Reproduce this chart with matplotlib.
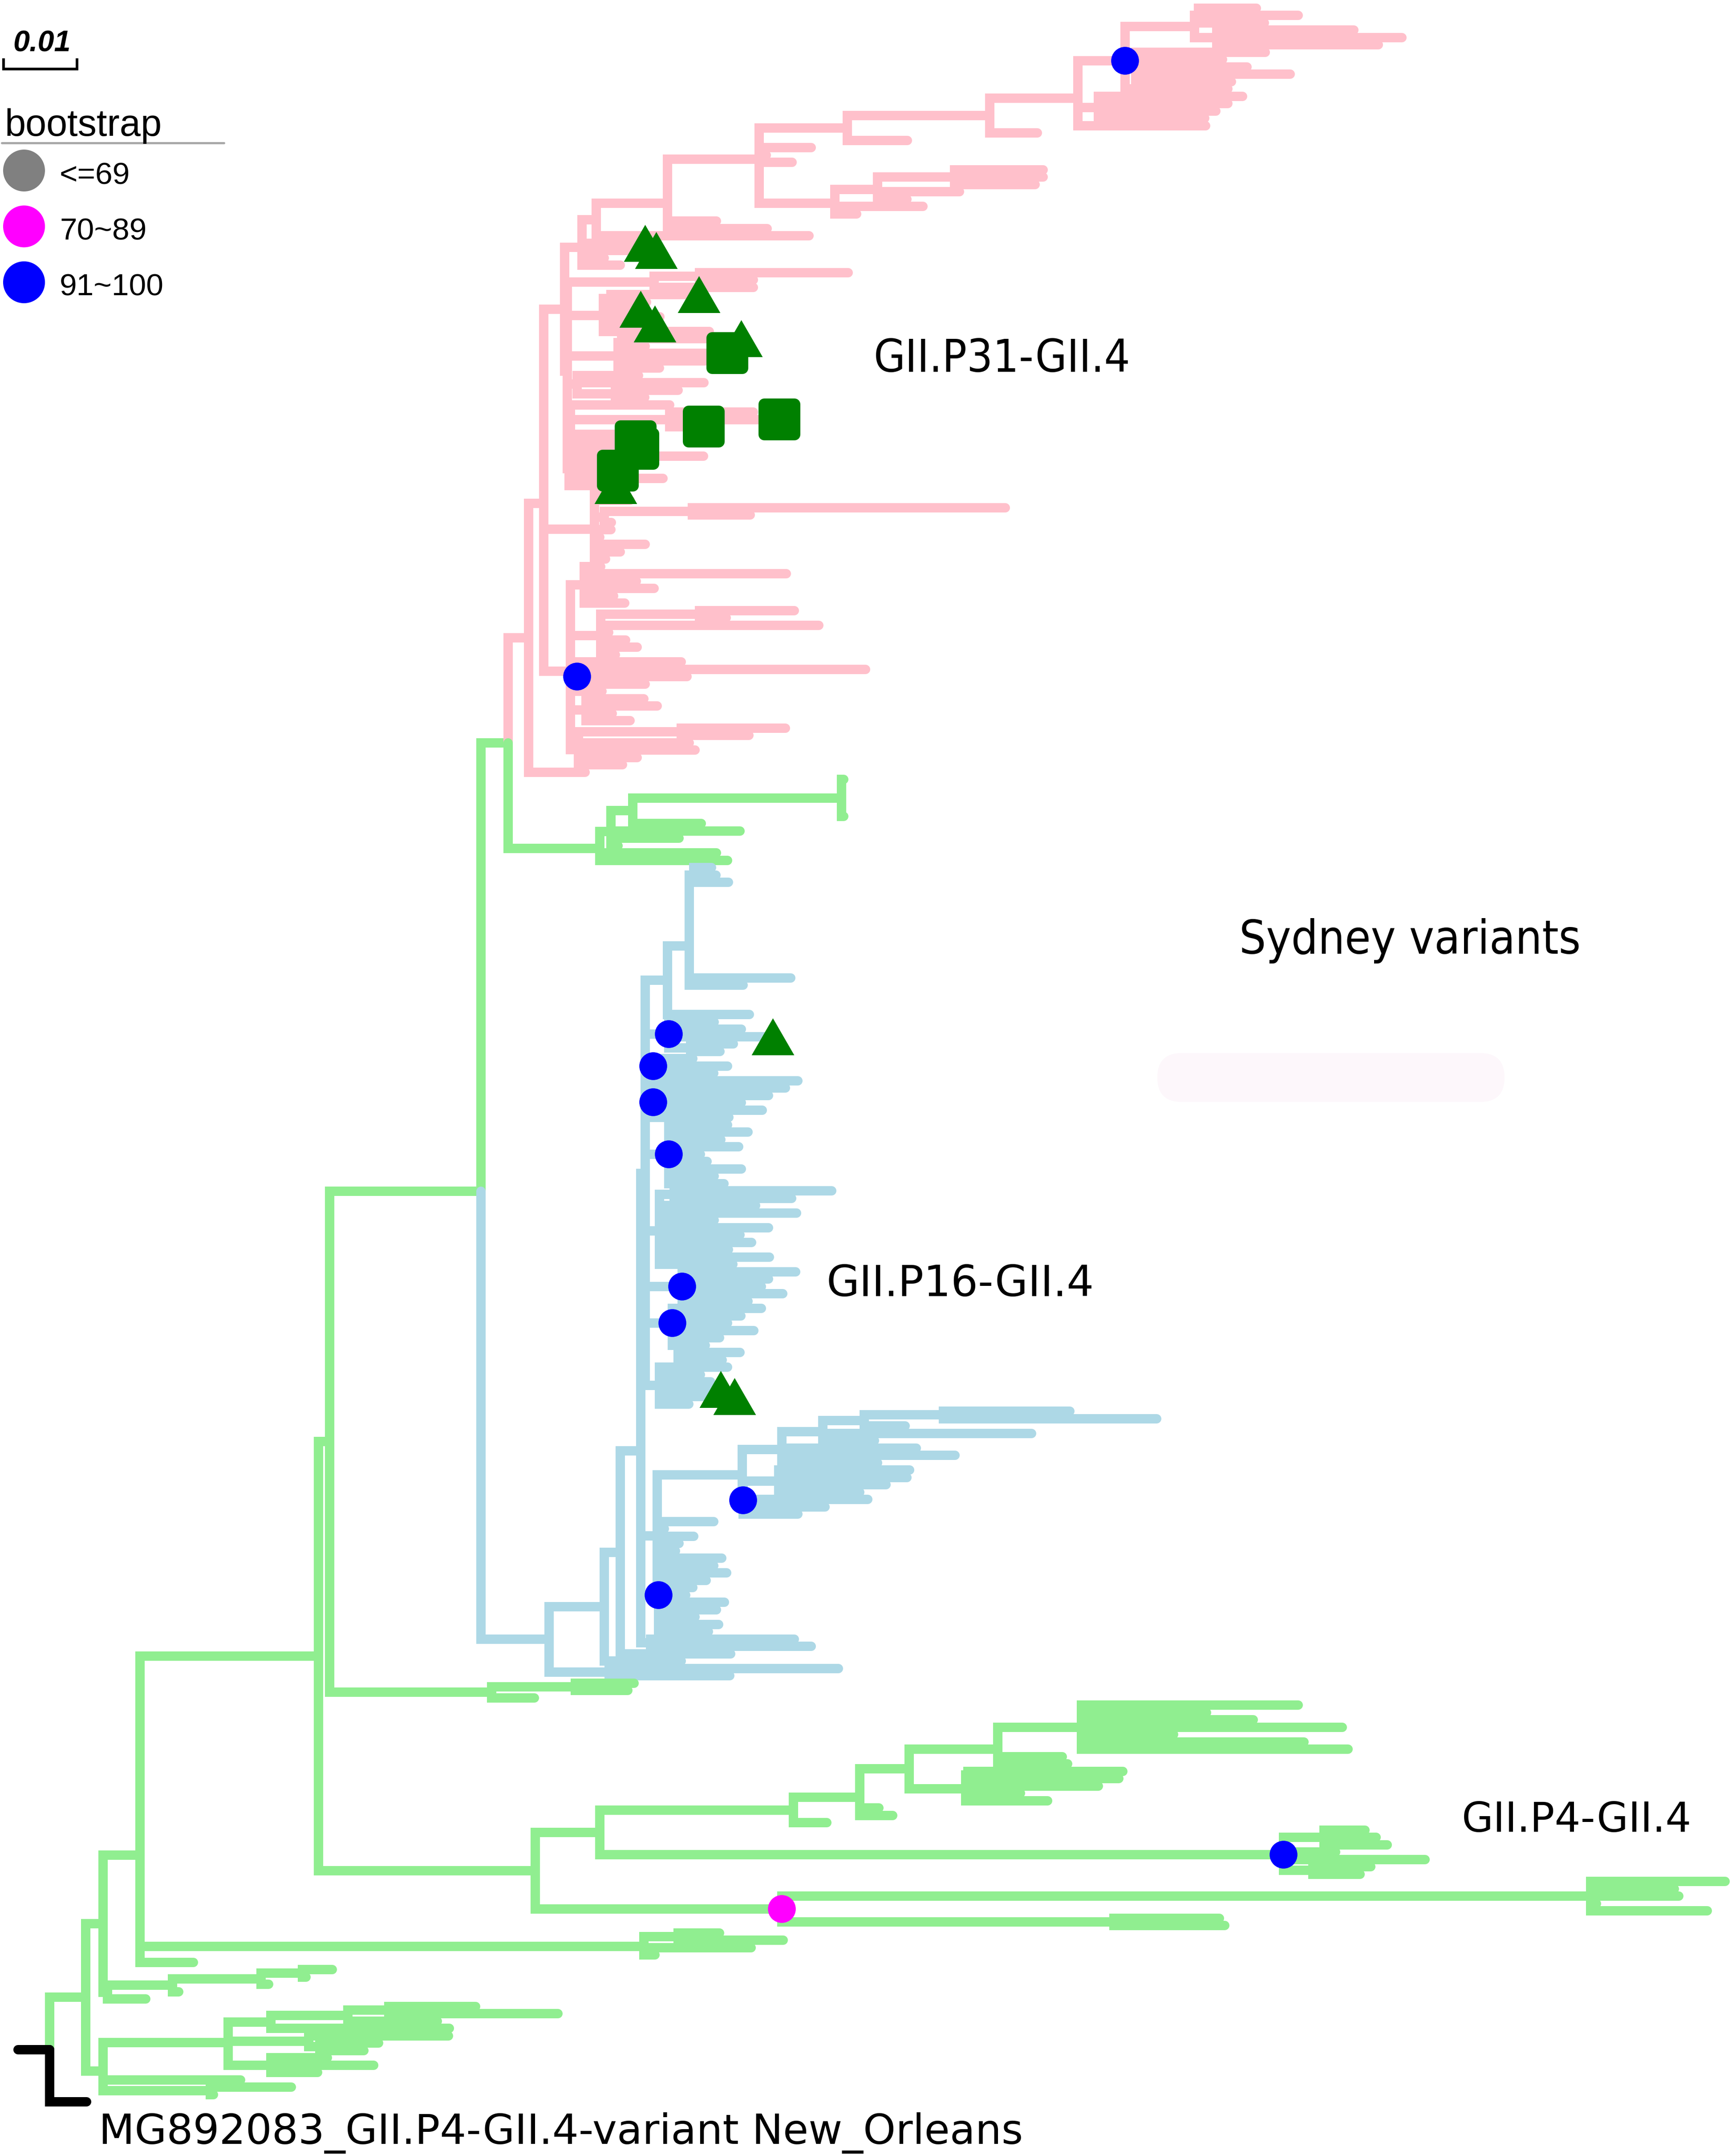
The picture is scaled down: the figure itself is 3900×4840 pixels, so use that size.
import os
import re
import matplotlib
matplotlib.use("Agg")
import matplotlib.pyplot as plt
from matplotlib import font_manager
from matplotlib.collections import LineCollection
from matplotlib.font_manager import FontProperties
from matplotlib.markers import MarkerStyle
from matplotlib.patches import Circle, FancyBboxPatch
from matplotlib.transforms import blended_transform_factory

W, H, DPI = 3900, 4840, 100

# ---------------- tree data ----------------
# Newick pieces, branch lengths in units of 0.001 substitutions/site.
# leaf flags: t = triangle, s = square, ~ = hidden taxon (keeps its row)
# node flags: B = bootstrap 91~100, M = bootstrap 70~89
BRANCH_UNIT = 0.001
ROOT_EDGE = 4.3
SCALE_BAR = 0.01

# GII.P31-GII.4 (pink)
P11 = "(((:7.9,:13.6,:9.0):0.5,(:18.7,:25.2,:22.0):3.0):9.5,(:17.6,:11.8,:15.1,:21.0,:13.0):1.5,:14.0)B"
P10 = "(P11:6.4,(:19.6,:17.6,:16.0,:14.5):2.8,:17.4)"
P12 = "(((:12.1,:12.1,:11.0):10.5,:11.2,:4.0):5.8,:12.0,:3.0)"
P7 = "(((P10:12.0,:6.5):19.4,:8.2):12.0,:7.1,:1.0,:4.5,P12:10.3)"
P4 = "(((P7:12.5,:6.7,:13.6):9.7,:29.0):1.9,t:8.6,t:10.1,:3.0,:5.2)"
G1 = "((:20.2,:7.3):6.2,:13.5)"
G2 = "((t:12.0,:4.9):1.0,(t:4.3,:6.9,t:6.2):0.8,:14.4)"
G3 = "((t:16.3,:3.2):0.5,(s:14.4,:11.3):0.5,:5.6)"
G4 = "(:8.4,:17.3,(:8.6,:4.0):5.2)"
G5 = "(:13.5,(:11.4,s:15.0,s:4.7):13.5,:11.0)"
G6 = "((s:8.8,s:9.2,:18.0):0.3,(:7.9,s:6.4,:12.5):0.3,t:6.4)"
MID = "(G1:11.8,G2:4.9,G3:6.9,G4:1.3,G5:0.4,G6:0.2)"
COMB = "(:2.2,:4.8,((:42.6,:7.9):12.0,:1.0):1.3,:2.2,:0.7,:6.9,:3.5,:1.5)"
LOWP = ("((:2.2,:27.5,:7.1,:9.5,:4.0,:5.5):1.9,((:12.9,:3.6):13.5,:29.7,:1.1,:3.4,:5.0,:2.0):4.1,"
        "(:14.2,:39.3,:15.0,:9.3,:3.4)B:0.9,(:7.9,:9.7,:3.6,:6.0):2.1,"
        "((:14.2,:9.2):14.0,:15.1,:15.9,:8.0,:6.0):1.1)")
PINK = "(((P4:2.4,MID:0.4):2.8,COMB:6.9,LOWP:3.6):2.1,:7.7)"

# green sister of the pink clade
GA = "((((:0.3,~,~,~,~,:0.3):28.4,:9.3):3.0,:17.6,:9.3,:1.0):1.5,:15.9,:17.4)"

# GII.P16-GII.4 (blue)
BLUE_UPPER = ("((((:2.4,:3.0,:4.7):0.6,~,~,~,~,~,~,~,~,~,~,~,~,:13.8,:7.3,~,~,~):3.0,:11.2):3.0,"
              "(:6.2,:9.9,t:14.2,(:5.8,:4.0):3.0)B:3.2,"
              "(:5.4,:10.1,:8.2)B:1.1,"
              "((:18.7,:17.0):1.0,:15.7,:12.0,:14.8,:10.3)B:1.1,"
              "(:8.0,:10.8,:7.1,:9.5,:4.3,:5.2,:9.9,:6.2,:7.5)B:3.2,"
              "((:21.5,:16.0):2.0,:13.1,:18.7,:7.5,:14.9,:11.0,:12.6,:9.4,:15.0,:10.0):1.9,"
              "(:15.5,:11.8,:10.8,:13.7,:9.0)B:5.0,"
              "(:12.1,:9.3,:7.5,(:10.3,:5.6,:3.7,:8.4,:6.0):0.8)B:3.7,"
              "(:9.3,:5.6,:7.0,t:8.4,t:10.3,:4.0):1.9)")
BLUE_LOWER = ("((((((:17.2,:29.0):10.8,:5.6):5.6,:28.4,:7.0):5.6,:18.3,:23.6,:13.0):5.4,"
              "((:17.8,:17.4,:14.6,:11.0):4.9,:17.0,:11.2,:7.5)B:0.1):11.6,"
              ":7.7,:1.0,:5.0,:3.0,:2.5,"
              "(:8.6,:7.5,:9.3,:6.5,:4.7,:3.7,:9.0,:7.9,:5.0,:8.2,:6.8)B:0.2)")
BLUE = ("((((BLUE_UPPER:0.6,BLUE_LOWER:2.2,(:19.6,:21.9):1.3):2.8,:15.0):2.2,:10.5):7.5,"
        "(:31.2,:16.4):8.2)")

# GII.P4-GII.4 and basal green lineages
GB = "((:8.0,:7.1):11.4,:5.8)"
P4A = ("(((((:29.5,:17.0,:23.4,:35.5,:12.5,:30.3,:36.3):11.4,:8.8,:9.5):12.1,"
       "((:21.1,:20.6):0.3,:18.1,:7.5,:11.2):7.7):6.7,:2.6,:4.5):9.0,:4.5)")
P4B = "((:5.6,:7.1,:8.6):5.5,:7.1,:19.3,(:7.9,:6.4):4.0)B"
P4M = "((:18.3,:11.4,:12.0,:0.8,:15.9):110.1,(:14.4,:15.1):45.2)M"
C3 = "((:5.6,:14.3):4.7,:14.6,:1.5)"
N11 = "((((:4.1,:0.5):5.6,:1.0):12.1,:0.9):8.8,:5.2)"
N12 = ("(((((:11.8,:23.0):5.6,:12.2):10.5,:24.3):5.8,(:19.0,(:8.0,:6.0):1.5):11.0,"
       "(:7.7,:14.0,:6.4):5.8):17.0,:18.7,(:11.0,:0.4):14.6)")

BACKBONE = ("((((((((PINK:2.8,GA:12.5):3.7,BLUE:9.3):20.6,GB:22.1):1.5,"
            "((P4A:26.4,P4B:93.1):8.8,P4M:33.6):29.5):24.3,C3:68.6,:7.3):5.0,"
            "N11:0.6):2.4,N12:2.4):4.9,OUT:5.0)")

OUTGROUP_NAME = "MG892083_GII.P4-GII.4-variant New_Orleans"
BOOTSTRAP_CLASSES = ["<=69", "70~89", "91~100"]
BOOTSTRAP_COLORS = ["#808080", "#ff00ff", "#0000ff"]
GROUP_COLORS = {"pink": "#ffc0cb", "green": "#90ee90", "blue": "#add8e6", "black": "#000000"}
GROUP_START = {"PINK": "pink", "BLUE": "blue", "OUT": "black"}
SHAPE_COLOR = "#008000"

SUBTREES = dict(P11=P11, P10=P10, P12=P12, P7=P7, P4=P4, G1=G1, G2=G2, G3=G3, G4=G4,
                G5=G5, G6=G6, MID=MID, COMB=COMB, LOWP=LOWP, PINK=PINK, GA=GA,
                BLUE_UPPER=BLUE_UPPER, BLUE_LOWER=BLUE_LOWER, BLUE=BLUE, GB=GB,
                P4A=P4A, P4B=P4B, P4M=P4M, C3=C3, N11=N11, N12=N12)


def parse(text, group):
    s = text.replace(" ", "")
    pos = 0

    def node(grp):
        nonlocal pos
        kids = []
        if s[pos] == "(":
            pos += 1
            kids.append(node(grp))
            while s[pos] == ",":
                pos += 1
                kids.append(node(grp))
            assert s[pos] == ")", (text, pos)
            pos += 1
        label = re.match(r"[A-Za-z0-9_~]*", s[pos:]).group(0)
        pos += len(label)
        length = 0.0
        m = re.match(r":([0-9.]+)", s[pos:])
        if m:
            length = float(m.group(1))
            pos += len(m.group(0))
        if label in SUBTREES:
            sub = parse(SUBTREES[label], GROUP_START.get(label, grp))
            sub["length"] = length
            return sub
        if label in GROUP_START:
            grp = GROUP_START[label]
        return {"kids": kids, "label": label, "length": length, "group": grp}

    root = node(group)
    assert pos == len(s), (text, pos)
    return root


tree = parse(BACKBONE, "green")

leaves = []


def layout(n, x0):
    n["x"] = x0 + n["length"] * BRANCH_UNIT
    if n["kids"]:
        for k in n["kids"]:
            layout(k, n["x"])
        ys = [k["y"] for k in n["kids"] if k["label"] != "~"]
        n["y"] = sum(ys) / len(ys)
    else:
        n["y"] = len(leaves)
        leaves.append(n)


layout(tree, 0.0)

segs, cols = [], []
tri, sq, boot_hi, boot_mid = [], [], [], []


def collect(n):
    if n["label"] == "t":
        tri.append((n["x"], n["y"]))
    elif n["label"] == "s":
        sq.append((n["x"], n["y"]))
    elif n["label"] == "B":
        boot_hi.append((n["x"], n["y"]))
    elif n["label"] == "M":
        boot_mid.append((n["x"], n["y"]))
    for k in n["kids"]:
        if k["label"] == "~":
            continue
        segs.append([(n["x"], n["y"]), (n["x"], k["y"]), (k["x"], k["y"])])
        cols.append(GROUP_COLORS[k["group"]])
        collect(k)


collect(tree)

# ---------------- figure ----------------
ROOT_PX, PX_PER_SUB = 111, 16500
TOP_LEAF_PX, LAST_LEAF_PX = 18, 4720
LW = 21 * 72 / DPI

fig = plt.figure(figsize=(W / DPI, H / DPI), dpi=DPI)
ax = fig.add_axes([0, 0, 1, 1])
ax.set_axis_off()
ax.set_xlim(-ROOT_PX / PX_PER_SUB, (W - ROOT_PX) / PX_PER_SUB)
step = (LAST_LEAF_PX - TOP_LEAF_PX) / (len(leaves) - 1)
ax.set_ylim((H - TOP_LEAF_PX) / step, -TOP_LEAF_PX / step)

ax.add_collection(LineCollection(segs, colors=cols, linewidths=LW,
                                 capstyle="round", joinstyle="miter", zorder=2))
ax.plot([-ROOT_EDGE * BRANCH_UNIT, 0], [tree["y"], tree["y"]], color="black",
        lw=LW, solid_capstyle="round", zorder=2)

tri_marker = MarkerStyle([(-0.5, -0.433), (0.5, -0.433), (0.0, 0.433)])
sq_marker = MarkerStyle("s", joinstyle="round")
ax.plot(*zip(*tri), ls="none", marker=tri_marker, ms=69, color=SHAPE_COLOR,
        mew=0, zorder=4)
ax.plot(*zip(*sq), ls="none", marker=sq_marker, ms=49, mfc=SHAPE_COLOR,
        mec=SHAPE_COLOR, mew=18.7, zorder=4)
ax.plot(*zip(*boot_hi), ls="none", marker="o", ms=45, color=BOOTSTRAP_COLORS[2],
        mew=0, zorder=5)
ax.plot(*zip(*boot_mid), ls="none", marker="o", ms=45, color=BOOTSTRAP_COLORS[1],
        mew=0, zorder=5)

# scale bar (x in tree units, y in axes fraction)
sb = blended_transform_factory(ax.transData, ax.transAxes)
sx0 = (8 - ROOT_PX) / PX_PER_SUB
ax.plot([sx0, sx0, sx0 + SCALE_BAR, sx0 + SCALE_BAR],
        [1 - 131 / H, 1 - 155 / H, 1 - 155 / H, 1 - 131 / H],
        transform=sb, color="black", lw=4.3, solid_joinstyle="miter",
        solid_capstyle="butt", clip_on=False)

# overlay in pixel coordinates for labels and legend
ov = fig.add_axes([0, 0, 1, 1])
ov.set_axis_off()
ov.patch.set_visible(False)
ov.set_xlim(0, W)
ov.set_ylim(H, 0)

ov.text(29, 115, "%g" % SCALE_BAR, fontsize=48, fontweight="bold", fontstyle="italic",
        family=["Liberation Sans", "DejaVu Sans"], ha="left", va="baseline")

ov.add_patch(FancyBboxPatch((2600, 2365), 780, 110,
                            boxstyle="round,pad=0,rounding_size=55",
                            fc="#fdf7fb", ec="none", zorder=0))

legend_font = ["Liberation Sans", "DejaVu Sans"]
ov.text(10, 305, "bootstrap", fontsize=61, family=legend_font, ha="left", va="baseline")
ov.plot([4, 503], [321, 321], color="#a9a9a9", lw=3.6, solid_capstyle="round")
for i, (lab, col) in enumerate(zip(BOOTSTRAP_CLASSES, BOOTSTRAP_COLORS)):
    cy = 383 + i * 125.5
    ov.add_patch(Circle((54, cy), 47, fc=col, ec="none"))
    ov.text(134, cy + 30, lab, fontsize=50, family=legend_font, ha="left", va="baseline")


# narrow font for the squeezed clade labels: look for an installed condensed file
def pick_narrow():
    files = [f.fname for f in font_manager.fontManager.ttflist]
    prefs = ["dejavusanscondensed.ttf", "liberationsansnarrow-regular",
             "notosans-condensed.ttf", "notosans-extracondensed.ttf",
             "notosans-semicondensed.ttf", "robotocondensed-regular",
             "opensans-condensed", "condensed", "narrow"]
    bad = ("bold", "italic", "oblique", "light", "thin", "black", "medium", "semibold")
    for p in prefs:
        for fn in files:
            b = os.path.basename(fn).lower()
            if p in b and not any(x in b for x in bad):
                return FontProperties(fname=fn)
    return FontProperties(family="DejaVu Sans")


narrow = pick_narrow()
renderer = fig.canvas.get_renderer()


def narrow_label(x, y, s, cap_px, width_px):
    fp = narrow.copy()
    fp.set_size(cap_px / 0.72 * 72 / DPI)
    t = ov.text(x, y, s, fontproperties=fp, ha="left", va="baseline")
    w = t.get_window_extent(renderer=renderer).width
    if w > width_px:
        fp.set_size(fp.get_size() * width_px / w)
        t.set_fontproperties(fp)
    return t


narrow_label(1963, 835, "GII.P31-GII.4", 92, 576)
narrow_label(2784, 2142, "Sydney variants", 122, 768)

plain = ["DejaVu Sans"]
ov.text(1857, 2911, "GII.P16-GII.4", fontsize=69, family=plain, ha="left", va="baseline")
ov.text(3284, 4114, "GII.P4-GII.4", fontsize=66, family=plain, ha="left", va="baseline")
ov.text(222, 4815, OUTGROUP_NAME, fontsize=67, family=plain, ha="left", va="baseline")

fig.savefig("out.png", dpi=DPI, facecolor="white")
